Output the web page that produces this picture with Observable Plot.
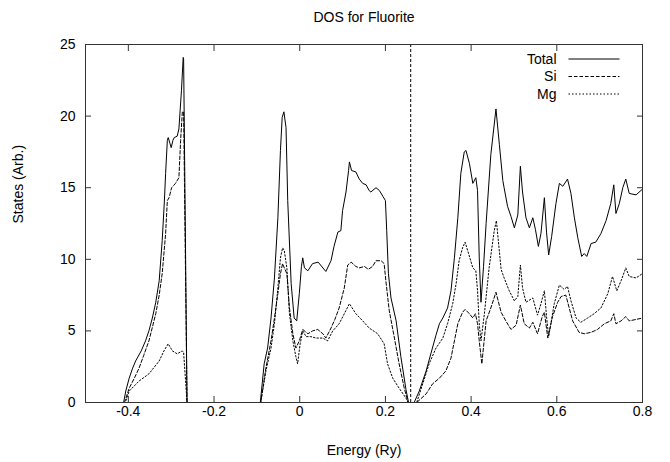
<!DOCTYPE html>
<html>
<head>
<meta charset="utf-8">
<script src="https://cdn.jsdelivr.net/npm/d3@7"></script>
<script src="https://cdn.jsdelivr.net/npm/@observablehq/plot@0.6"></script>
<style>
  html, body { margin: 0; padding: 0; background: #fff; }
  #chart { width: 670px; height: 462px; }
</style>
</head>
<body>
<div id="chart"></div>
<script>
const title = "DOS for Fluorite";
const xLabel = "Energy (Ry)";
const yLabel = "States (Arb.)";
const seriesNames = ["Total", "Si", "Mg"];
const xTicks = [-0.4, -0.2, 0, 0.2, 0.4, 0.6, 0.8];
const yTicks = [0, 5, 10, 15, 20, 25];
const fermiEnergy = [0.259];

const eTotal = [-0.5,-0.411,-0.406,-0.398,-0.390,-0.383,-0.370,-0.360,-0.352,-0.344,-0.336,-0.328,-0.321,-0.316,-0.313,-0.309,-0.307,-0.303,-0.300,-0.296,-0.293,-0.286,-0.282,-0.276,-0.272,-0.271,-0.263,
 -0.092,-0.087,-0.083,-0.075,-0.067,-0.059,-0.051,-0.045,-0.041,-0.037,-0.032,-0.028,-0.020,-0.013,-0.007,-0.001,0.004,0.007,0.011,0.019,0.030,0.043,0.061,0.073,0.080,0.089,0.096,0.100,0.108,0.114,0.116,0.121,0.131,0.139,0.147,0.155,0.162,0.166,0.178,0.186,0.194,0.200,0.203,0.207,0.213,0.225,0.236,0.248,0.254,
 0.267,0.279,0.295,0.306,0.318,0.326,0.334,0.345,0.353,0.361,0.369,0.376,0.384,0.388,0.396,0.404,0.411,0.415,0.419,0.423,0.429,0.435,0.446,0.458,0.466,0.474,0.477,0.485,0.493,0.501,0.509,0.515,0.520,0.528,0.536,0.544,0.550,0.557,0.563,0.571,0.576,0.581,0.588,0.598,0.606,0.614,0.625,0.633,0.641,0.649,0.658,0.664,0.670,0.680,0.691,0.703,0.715,0.726,0.733,0.738,0.746,0.754,0.761,0.769,0.785,0.800];
const total = [0,0,0.8,1.7,2.4,2.9,3.6,4.3,5.0,5.9,7.0,8.5,11.3,14.0,16.0,18.3,18.5,18.1,17.8,18.3,18.5,18.6,19.1,21.8,24.1,24.0,0,
 0,1.5,2.7,3.8,5.9,8.7,12.9,17.6,19.9,20.3,19.2,14.1,8.3,5.9,5.7,7.6,9.5,10.1,9.4,9.2,9.7,9.8,9.15,9.9,10.9,11.9,12.0,13.4,14.7,16.2,16.8,16.2,16.1,15.6,15.3,15.2,14.8,14.7,15.0,14.8,14.4,14.1,12.0,9.0,7.3,5.7,3.2,0.9,0,
 0,0.8,2.2,3.4,4.7,5.5,5.9,6.6,7.8,10.1,12.9,16.0,17.5,17.6,16.7,15.3,15.7,14.8,10.1,7.0,9.5,12.5,17.3,20.5,18.0,15.5,15.0,13.7,13.0,12.2,13.1,16.5,14.7,12.9,12.2,12.9,12.1,10.9,11.8,14.3,11.9,10.3,11.6,13.9,15.3,15.1,15.6,14.6,12.9,11.5,10.2,10.4,10.2,11.1,11.2,11.8,12.7,13.9,15.2,13.2,13.9,15.0,15.6,14.6,14.5,14.9];

const eSi = [-0.5,-0.409,-0.398,-0.386,-0.375,-0.364,-0.352,-0.336,-0.328,-0.321,-0.313,-0.309,-0.305,-0.299,-0.290,-0.282,-0.278,-0.274,-0.271,-0.263,
 -0.091,-0.079,-0.067,-0.059,-0.051,-0.045,-0.040,-0.036,-0.030,-0.024,-0.016,-0.009,-0.001,0.007,0.019,0.030,0.042,0.054,0.061,0.073,0.082,0.092,0.104,0.112,0.120,0.131,0.139,0.151,0.160,0.170,0.178,0.190,0.197,0.201,0.209,0.221,0.232,0.244,0.253,
 0.273,0.295,0.310,0.326,0.341,0.353,0.361,0.369,0.380,0.386,0.396,0.404,0.410,0.415,0.419,0.425,0.435,0.446,0.458,0.470,0.481,0.493,0.505,0.515,0.524,0.536,0.544,0.555,0.566,0.571,0.579,0.590,0.602,0.610,0.621,0.637,0.652,0.664,0.680,0.695,0.711,0.726,0.733,0.738,0.750,0.761,0.769,0.785,0.800];
const si = [0,0,1.0,1.7,2.4,3.3,4.3,6.2,7.5,9.0,11.8,14.1,14.3,15.0,15.3,15.7,18.3,20.3,20.3,0,
 0,2.4,4.3,5.9,7.6,9.0,9.7,9.4,9.0,6.6,4.8,3.8,4.3,5.1,4.8,5.0,5.1,4.8,4.5,5.2,5.8,6.6,8.0,9.6,9.8,9.5,9.4,9.5,9.3,9.5,9.9,9.9,9.7,8.5,6.4,4.5,2.7,1.0,0,
 0,0.6,1.3,1.7,2.2,3.1,4.3,5.5,6.3,6.5,6.2,5.9,6.2,5.5,4.3,2.7,5.7,6.6,7.7,6.3,5.7,5.1,5.4,6.8,5.5,5.2,5.6,4.8,6.0,6.3,4.5,6.0,7.0,7.4,7.5,5.7,4.9,4.8,4.9,5.1,5.5,5.7,6.2,5.5,5.7,6.0,5.7,5.8,5.9];

const eMg = [-0.5,-0.407,-0.398,-0.375,-0.352,-0.328,-0.317,-0.307,-0.297,-0.286,-0.274,-0.271,-0.263,
 -0.091,-0.079,-0.067,-0.059,-0.051,-0.045,-0.040,-0.036,-0.030,-0.024,-0.016,-0.009,-0.005,0.001,0.007,0.015,0.026,0.038,0.054,0.065,0.077,0.092,0.104,0.116,0.131,0.147,0.162,0.182,0.197,0.205,0.217,0.232,0.248,0.253,
 0.273,0.287,0.302,0.318,0.334,0.345,0.357,0.365,0.372,0.380,0.386,0.394,0.404,0.411,0.415,0.419,0.423,0.431,0.442,0.454,0.459,0.470,0.477,0.489,0.501,0.509,0.515,0.520,0.528,0.544,0.555,0.563,0.571,0.576,0.581,0.594,0.606,0.617,0.625,0.633,0.645,0.656,0.672,0.687,0.703,0.719,0.730,0.740,0.750,0.761,0.769,0.785,0.800];
const mg = [0,0,0.8,1.5,2.0,2.9,3.6,4.1,3.6,3.4,3.6,3.5,0,
 0,2.2,3.8,5.5,8.0,10.1,10.8,10.6,9.4,6.2,4.3,3.2,2.7,4.1,5.0,4.6,4.6,4.5,4.5,4.3,5.0,5.5,6.2,6.9,6.2,5.7,5.2,4.8,4.1,2.7,1.7,1.0,0.3,0,
 0,1.3,2.7,3.8,4.5,5.5,6.9,8.3,9.9,10.8,11.2,10.4,9.4,9.2,7.8,5.5,4.3,6.2,9.4,12.0,12.7,9.3,8.7,7.8,7.1,7.4,9.6,8.0,7.0,7.3,6.1,6.9,7.8,6.0,4.6,6.9,8.2,7.9,8.1,7.1,5.9,5.6,5.9,6.2,6.6,7.6,8.8,7.8,8.5,9.4,8.8,8.7,9.0];

const dashes = {Total: null, Si: "3.5,2", Mg: "1.5,2"};
const toRows = (es, vs) => es.map((e, i) => ({e, v: vs[i]}));
const seriesData = {Total: toRows(eTotal, total), Si: toRows(eSi, si), Mg: toRows(eMg, mg)};

const fmt = d => String(d);

function legend(index, scales, values, dims) {
  const g = d3.create("svg:g");
  const right = dims.width - dims.marginRight;
  const top = dims.marginTop;
  seriesNames.forEach((name, i) => {
    const y = top + 15 + i * 17.5;
    g.append("text").attr("x", right - 85.5).attr("y", y).attr("dy", "0.35em")
      .attr("text-anchor", "end").attr("fill", "black").text(name);
    g.append("line").attr("x1", right - 73.5).attr("x2", right - 22.5)
      .attr("y1", y).attr("y2", y).attr("stroke", "black").attr("stroke-width", 1)
      .attr("stroke-dasharray", dashes[name]);
  });
  return g.node();
}

const chart = Plot.plot({
  width: 670,
  height: 462,
  marginTop: 44,
  marginBottom: 60,
  marginLeft: 85,
  marginRight: 28,
  style: {fontFamily: "'Liberation Sans', Arial, Helvetica, sans-serif", fontSize: "14px", background: "white", color: "black"},
  x: {domain: [-0.5, 0.8]},
  y: {domain: [0, 25]},
  marks: [
    Plot.ruleX(fermiEnergy, {stroke: "black", strokeWidth: 1, strokeDasharray: "3,2"}),
    ...seriesNames.map(name => Plot.line(seriesData[name], {x: "e", y: "v", stroke: "black", strokeWidth: 1, strokeDasharray: dashes[name]})),
    Plot.frame({stroke: "#333"}),
    Plot.axisX(xTicks, {anchor: "bottom", tickSize: -6, tickPadding: 10, tickFormat: fmt, label: null, stroke: "#333"}),
    Plot.axisX(xTicks, {anchor: "top", tickSize: -6, tickFormat: () => "", label: null, stroke: "#333"}),
    Plot.axisY(yTicks, {anchor: "left", tickSize: -6, tickPadding: 16, tickFormat: fmt, label: null, stroke: "#333"}),
    Plot.axisY(yTicks, {anchor: "right", tickSize: -6, tickFormat: () => "", label: null, stroke: "#333"}),
    Plot.text([title], {frameAnchor: "top", dy: -32, text: d => d, fill: "black"}),
    Plot.text([xLabel], {frameAnchor: "bottom", dy: 52, text: d => d, fill: "black"}),
    Plot.text([yLabel], {frameAnchor: "left", dx: -67, rotate: -90, text: d => d, fill: "black"}),
    legend
  ]
});
document.getElementById("chart").appendChild(chart);
</script>
</body>
</html>
